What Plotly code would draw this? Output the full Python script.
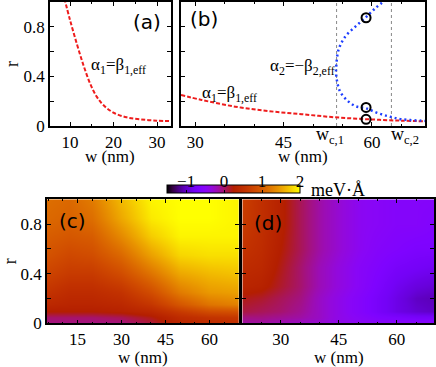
import math

import plotly.graph_objects as go

W, H = 436, 367

# panel (a): alpha1 = beta1,eff curve
a_w = [8.7, 10.0, 11.53, 13.07, 14.6, 16.13, 17.66, 19.96, 23.0, 26.1, 29.9, 33.2]
a_r = [1.03, 0.855, 0.667, 0.492, 0.344, 0.237, 0.169, 0.108, 0.070, 0.054, 0.043, 0.040]

# panel (b): alpha1 = beta1,eff and alpha2 = -beta2,eff
b1_w = [27.6, 31.1, 36.8, 42.5, 48.1, 53.8, 59.4, 65.0, 69.0]
b1_r = [0.25, 0.21, 0.156, 0.12, 0.095, 0.07, 0.054, 0.043, 0.038]
b2_w = [62.4, 60.54, 58.95, 57.15, 55.45, 54.32, 53.93, 53.9, 54.04, 54.6,
        55.73, 57.15, 58.95, 61.1, 63.08, 65.06, 68.4, 69.0]
b2_r = [1.02, 0.949, 0.876, 0.80, 0.72, 0.613, 0.478, 0.45, 0.371, 0.277,
        0.21, 0.161, 0.143, 0.102, 0.075, 0.054, 0.043, 0.041]
circ_w = [59.0, 59.0, 59.0]
circ_r = [0.873, 0.15, 0.054]
wc = [54.0, 63.3]

# panel (c) map
c_w = [5, 12, 20, 30, 40, 50, 60, 70]
c_r = [0, 0.05, 0.1, 0.15, 0.25, 0.4, 0.55, 0.7, 0.85, 1.0]
c_z = [
    [-0.05, -0.05, -0.05, -0.05, 0.1, 0.35, 0.45, 0.5],
    [0.0, 0.0, 0.0, 0.05, 0.2, 0.45, 0.55, 0.6],
    [0.25, 0.25, 0.25, 0.3, 0.4, 0.65, 0.85, 0.9],
    [0.4, 0.35, 0.35, 0.4, 0.6, 0.95, 1.2, 1.3],
    [0.55, 0.45, 0.45, 0.55, 0.85, 1.25, 1.45, 1.5],
    [0.75, 0.65, 0.65, 0.85, 1.2, 1.55, 1.65, 1.7],
    [0.9, 0.8, 0.85, 1.1, 1.5, 1.8, 1.85, 1.85],
    [1.0, 0.95, 1.0, 1.35, 1.75, 1.95, 1.95, 1.95],
    [1.1, 1.05, 1.15, 1.55, 1.9, 2.0, 2.0, 1.95],
    [1.15, 1.1, 1.25, 1.65, 1.95, 2.0, 2.0, 1.95],
]

# panel (d) map
d_w = [20, 25, 30, 35, 40, 45, 50, 55, 60, 65, 70]
d_r = [0, 0.05, 0.1, 0.2, 0.3, 0.45, 0.6, 0.8, 1.0]
d_z = [
    [-0.15, -0.15, -0.2, -0.25, -0.3, -0.4, -0.45, -0.5, -0.5, -0.5, -0.5],
    [-0.05, -0.05, -0.1, -0.15, -0.25, -0.4, -0.5, -0.6, -0.65, -0.7, -0.7],
    [0.1, 0.05, 0.0, -0.1, -0.25, -0.4, -0.55, -0.7, -0.85, -0.95, -1.0],
    [0.2, 0.15, 0.05, -0.05, -0.25, -0.4, -0.55, -0.7, -0.85, -1.0, -1.05],
    [0.35, 0.3, 0.15, 0.0, -0.2, -0.35, -0.5, -0.65, -0.8, -0.9, -0.95],
    [0.45, 0.4, 0.2, 0.0, -0.2, -0.35, -0.5, -0.6, -0.7, -0.75, -0.8],
    [0.55, 0.45, 0.25, 0.05, -0.15, -0.3, -0.45, -0.55, -0.6, -0.65, -0.65],
    [0.65, 0.5, 0.3, 0.05, -0.15, -0.3, -0.45, -0.5, -0.55, -0.55, -0.6],
    [0.7, 0.5, 0.3, 0.05, -0.15, -0.3, -0.45, -0.5, -0.55, -0.55, -0.55],
]

r_ticks = [0, 0.2, 0.4, 0.6, 0.8, 1.0]
r_text = ["0", "", "0.4", "", "0.8", ""]
cb_ticks = [-1, 0, 1, 2]

SERIF = "Times New Roman, Liberation Serif, Tinos, serif"
SANS = "DejaVu Sans, Verdana, sans-serif"


def gnuplot_scale(n=24):
    # gnuplot default pm3d palette (rgbformulae 7,5,15)
    stops = []
    for i in range(n + 1):
        t = i / n
        r = math.sqrt(t)
        g = t ** 3
        b = max(0.0, math.sin(2 * math.pi * t))
        stops.append([t, f"rgb({int(r*255)},{int(g*255)},{int(b*255)})"])
    return stops


def px_x(x):
    return x / W


def px_y(y):
    return 1 - y / H


fig = go.Figure()

fig.add_trace(go.Scatter(x=a_w, y=a_r, mode="lines", xaxis="x", yaxis="y",
                         line=dict(color="#ee1c1c", width=2, dash="4px,2px", shape="spline")))
fig.add_trace(go.Scatter(x=b1_w, y=b1_r, mode="lines", xaxis="x2", yaxis="y2",
                         line=dict(color="#ee1c1c", width=2, dash="4px,2px", shape="spline")))
fig.add_trace(go.Scatter(x=b2_w, y=b2_r, mode="lines", xaxis="x2", yaxis="y2",
                         line=dict(color="#1f3fff", width=2.5, dash="2px,3px", shape="spline")))
fig.add_trace(go.Scatter(x=circ_w, y=circ_r, mode="markers", xaxis="x2", yaxis="y2",
                         marker=dict(symbol="circle-open", size=9, color="black",
                                     line=dict(width=2, color="black"))))

fig.add_trace(go.Heatmap(x=c_w, y=c_r, z=c_z, xaxis="x3", yaxis="y3",
                         coloraxis="coloraxis", zsmooth="best"))
fig.add_trace(go.Heatmap(x=d_w, y=d_r, z=d_z, xaxis="x4", yaxis="y4",
                         coloraxis="coloraxis", zsmooth="best"))

for v in wc:
    fig.add_shape(type="line", xref="x2", yref="y2", x0=v, x1=v, y0=0, y1=1,
                  line=dict(color="#888888", width=1, dash="dot"), layer="below")

axis_common = dict(showline=True, linecolor="black", linewidth=1.5, mirror="allticks",
                   ticks="inside", ticklen=4, tickcolor="black", showgrid=False,
                   zeroline=False, automargin=False,
                   tickfont=dict(family=SERIF, size=17, color="black"))
x_minor = dict(ticks="inside", ticklen=2, dtick=5, tickcolor="black")

fig.update_layout(
    width=W, height=H, autosize=False, margin=dict(l=0, r=0, t=0, b=0, pad=0),
    paper_bgcolor="white", plot_bgcolor="white", showlegend=False,
    font=dict(family=SERIF, size=17, color="black"),
    xaxis=dict(axis_common, domain=[px_x(50), px_x(171)], range=[5.4, 33.2],
               tickvals=[10, 20, 30], anchor="y", minor=x_minor),
    yaxis=dict(axis_common, domain=[px_y(126), px_y(2)], range=[0, 1],
               tickvals=r_ticks, ticktext=r_text, anchor="x",
               title=dict(text="r", standoff=0, font=dict(family=SERIF, size=18))),
    xaxis2=dict(axis_common, domain=[px_x(181), px_x(425)], range=[27.6, 69],
                tickvals=[30, 45, 60], anchor="y2", minor=x_minor),
    yaxis2=dict(axis_common, domain=[px_y(126), px_y(2)], range=[0, 1],
                tickvals=r_ticks, showticklabels=False, anchor="x2"),
    xaxis3=dict(axis_common, domain=[px_x(47), px_x(238.7)], range=[4.6, 70],
                tickvals=[15, 30, 45, 60], anchor="y3", minor=x_minor),
    yaxis3=dict(axis_common, domain=[px_y(323.3), px_y(199.3)], range=[0, 1],
                tickvals=r_ticks, ticktext=r_text, anchor="x3",
                title=dict(text="r", standoff=0, font=dict(family=SERIF, size=18))),
    xaxis4=dict(axis_common, domain=[px_x(242.3), px_x(434)], range=[20.07, 69.64],
                tickvals=[30, 45, 60], anchor="y4", minor=x_minor),
    yaxis4=dict(axis_common, domain=[px_y(323.3), px_y(199.3)], range=[0, 1],
                tickvals=r_ticks, showticklabels=False, anchor="x4"),
    coloraxis=dict(
        cmin=-1.5, cmax=2, colorscale=gnuplot_scale(),
        colorbar=dict(orientation="h", x=px_x(233.6), xanchor="center",
                      y=px_y(194), yanchor="bottom", len=132.7 / W, lenmode="fraction",
                      thickness=8, outlinewidth=1, outlinecolor="black",
                      xpad=0, ypad=0, tickvals=cb_ticks, ticks="inside",
                      ticklen=3, tickcolor="black", ticklabelposition="inside",
                      ticklabeloverflow="allow",
                      tickfont=dict(family=SERIF, size=17, color="black")),
    ),
)

annotations = [
    # panel letters
    dict(text="(a)", x=px_x(147), y=px_y(22), font=dict(family=SANS, size=20)),
    dict(text="(b)", x=px_x(204), y=px_y(19), font=dict(family=SANS, size=20)),
    dict(text="(c)", x=px_x(72), y=px_y(221), font=dict(family=SANS, size=20)),
    dict(text="(d)", x=px_x(268), y=px_y(223), font=dict(family=SANS, size=20)),
    # curve labels
    dict(text="α<sub>1</sub>=β<sub>1,eff</sub>", x=px_x(118), y=px_y(66)),
    dict(text="α<sub>2</sub>=−β<sub>2,eff</sub>", x=px_x(337), y=px_y(67), xanchor="right"),
    dict(text="α<sub>1</sub>=β<sub>1,eff</sub>", x=px_x(229), y=px_y(94)),
    # critical widths
    dict(text="w<sub>c,1</sub>", x=px_x(330), y=px_y(135), font=dict(family=SERIF, size=18)),
    dict(text="w<sub>c,2</sub>", x=px_x(405), y=px_y(135), font=dict(family=SERIF, size=18)),
    # axis titles
    dict(text="w (nm)", x=px_x(110), y=px_y(156)),
    dict(text="w (nm)", x=px_x(303), y=px_y(156)),
    dict(text="w (nm)", x=px_x(142.5), y=px_y(357)),
    dict(text="w (nm)", x=px_x(338.5), y=px_y(357)),
    # colorbar unit
    dict(text="meV·Å", x=px_x(309), y=px_y(190), xanchor="left", font=dict(family=SERIF, size=18)),
]
for ann in annotations:
    ann.setdefault("xref", "paper")
    ann.setdefault("yref", "paper")
    ann.setdefault("showarrow", False)
    ann.setdefault("xanchor", "center")
    ann.setdefault("yanchor", "middle")
    ann.setdefault("font", dict(family=SERIF, size=17))
    fig.add_annotation(**ann)

page_fix = (
    "document.documentElement.style.margin = '0';"
    "document.documentElement.style.overflow = 'hidden';"
    "document.body.style.margin = '0';"
    "document.body.style.overflow = 'hidden';"
)
fig.write_html("out.html", config={"displayModeBar": False, "responsive": False},
               post_script=page_fix)
